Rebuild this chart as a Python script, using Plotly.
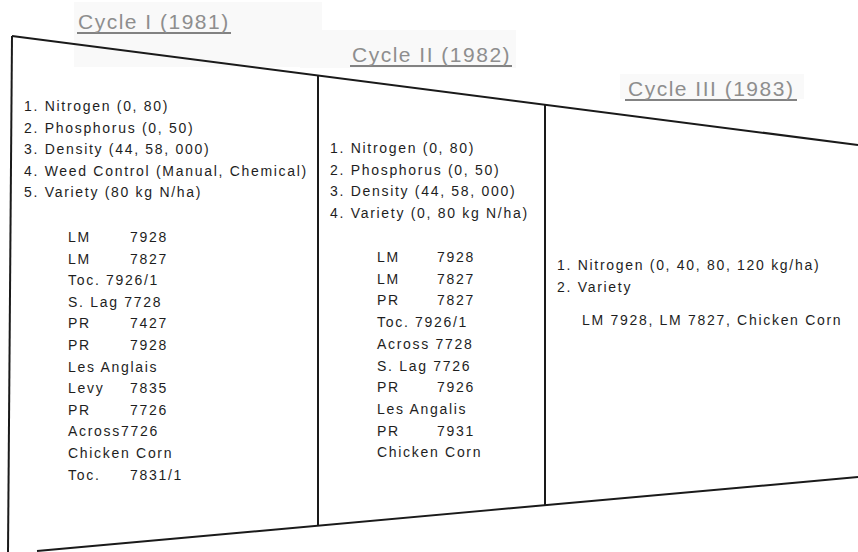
import plotly.graph_objects as go

W, H = 858, 552

# ---------------- content ----------------
cycle_titles = ["Cycle I (1981)", "Cycle II (1982)", "Cycle III (1983)"]

cycle1_factors = [
    "1. Nitrogen (0, 80)",
    "2. Phosphorus (0, 50)",
    "3. Density (44, 58, 000)",
    "4. Weed Control (Manual, Chemical)",
    "5. Variety (80 kg N/ha)",
]
cycle1_varieties = [
    ("LM", "7928"), ("LM", "7827"), ("Toc. 7926/1", ""), ("S. Lag 7728", ""),
    ("PR", "7427"), ("PR", "7928"), ("Les Anglais", ""), ("Levy", "7835"),
    ("PR", "7726"), ("Across7726", ""), ("Chicken Corn", ""), ("Toc.", "7831/1"),
]

cycle2_factors = [
    "1. Nitrogen (0, 80)",
    "2. Phosphorus (0, 50)",
    "3. Density (44, 58, 000)",
    "4. Variety (0, 80 kg N/ha)",
]
cycle2_varieties = [
    ("LM", "7928"), ("LM", "7827"), ("PR", "7827"), ("Toc. 7926/1", ""),
    ("Across 7728", ""), ("S. Lag 7726", ""), ("PR", "7926"), ("Les Angalis", ""),
    ("PR", "7931"), ("Chicken Corn", ""),
]

cycle3_factors = [
    "1. Nitrogen (0, 40, 80, 120 kg/ha)",
    "2. Variety",
]
cycle3_varieties = [("LM 7928, LM 7827, Chicken Corn", "")]

# ---------------- layout geometry (pixels) ----------------
TOP = ((12, 36), (858, 145))
BOT = ((37, 551), (858, 477))
LEFT = ((12, 36), (8, 552))
DIVIDERS = [318, 545]

def y_on(line, x):
    (x0, y0), (x1, y1) = line
    return y0 + (y1 - y0) * (x - x0) / (x1 - x0)

columns = [
    dict(title=cycle_titles[0], tx=154, ty=21, uw=154, factors=cycle1_factors, fx=22, fy=106,
         varieties=cycle1_varieties, vx=66, nx=128, vy=237, dy=21.6),
    dict(title=cycle_titles[1], tx=431, ty=54, uw=162, factors=cycle2_factors, fx=328, fy=148,
         varieties=cycle2_varieties, vx=375, nx=435, vy=257, dy=21.7),
    dict(title=cycle_titles[2], tx=711, ty=88, uw=172, factors=cycle3_factors, fx=555, fy=265,
         varieties=cycle3_varieties, vx=580, nx=0, vy=320, dy=21.7),
]

TEXT_FONT = dict(family="Liberation Sans, Arial, sans-serif", size=14, color="#1e1e1e")
TITLE_FONT = dict(family="Liberation Sans, Arial, sans-serif", size=21, color="#8e8e8e")

def spaced(t, px=1.7):
    return f'<span style="letter-spacing:{px}px">{t}</span>'

fig = go.Figure()
shapes = []
annotations = []

# faint scan patches behind titles
for x0, y0, x1, y1 in [(74, 2, 322, 67), (300, 30, 516, 68), (620, 74, 804, 99)]:
    shapes.append(dict(type="rect", xref="x", yref="y", x0=x0, y0=y0, x1=x1, y1=y1,
                       fillcolor="#f9f9f9", line=dict(width=0), layer="below"))

line_style = dict(color="#1a1a1a", width=2)
for ln in (TOP, BOT, LEFT):
    (x0, y0), (x1, y1) = ln
    shapes.append(dict(type="line", xref="x", yref="y", x0=x0, y0=y0, x1=x1, y1=y1,
                       line=line_style))
for xd in DIVIDERS:
    shapes.append(dict(type="line", xref="x", yref="y", x0=xd, x1=xd,
                       y0=y_on(TOP, xd), y1=y_on(BOT, xd), line=line_style))

for col in columns:
    annotations.append(dict(x=col["tx"], y=col["ty"], xref="x", yref="y",
                            text=spaced(col["title"], 1.5), showarrow=False,
                            xanchor="center", yanchor="middle", font=TITLE_FONT))
    # darker underline beneath each cycle title
    shapes.append(dict(type="line", xref="x", yref="y",
                       x0=col["tx"] - col["uw"] / 2, x1=col["tx"] + col["uw"] / 2,
                       y0=col["ty"] + 12, y1=col["ty"] + 12,
                       line=dict(color="#5a5a5a", width=1.6)))
    for i, f in enumerate(col["factors"]):
        annotations.append(dict(x=col["fx"], y=col["fy"] + i * col["dy"], xref="x", yref="y",
                                text=spaced(f), showarrow=False, xanchor="left",
                                yanchor="middle", font=TEXT_FONT))
    for i, (name, num) in enumerate(col["varieties"]):
        yy = col["vy"] + i * col["dy"]
        annotations.append(dict(x=col["vx"], y=yy, xref="x", yref="y", text=spaced(name),
                                showarrow=False, xanchor="left", yanchor="middle",
                                font=TEXT_FONT))
        if num:
            annotations.append(dict(x=col["nx"], y=yy, xref="x", yref="y", text=spaced(num),
                                    showarrow=False, xanchor="left", yanchor="middle",
                                    font=TEXT_FONT))

fig.update_layout(
    width=W, height=H,
    margin=dict(l=0, r=0, t=0, b=0),
    paper_bgcolor="white", plot_bgcolor="white",
    xaxis=dict(range=[0, W], visible=False, fixedrange=True),
    yaxis=dict(range=[H, 0], visible=False, fixedrange=True),
    shapes=shapes, annotations=annotations, showlegend=False,
)

fig.write_html("out.html", config={"displayModeBar": False},
               post_script="document.body.style.margin='0';document.body.style.overflow='hidden';")
